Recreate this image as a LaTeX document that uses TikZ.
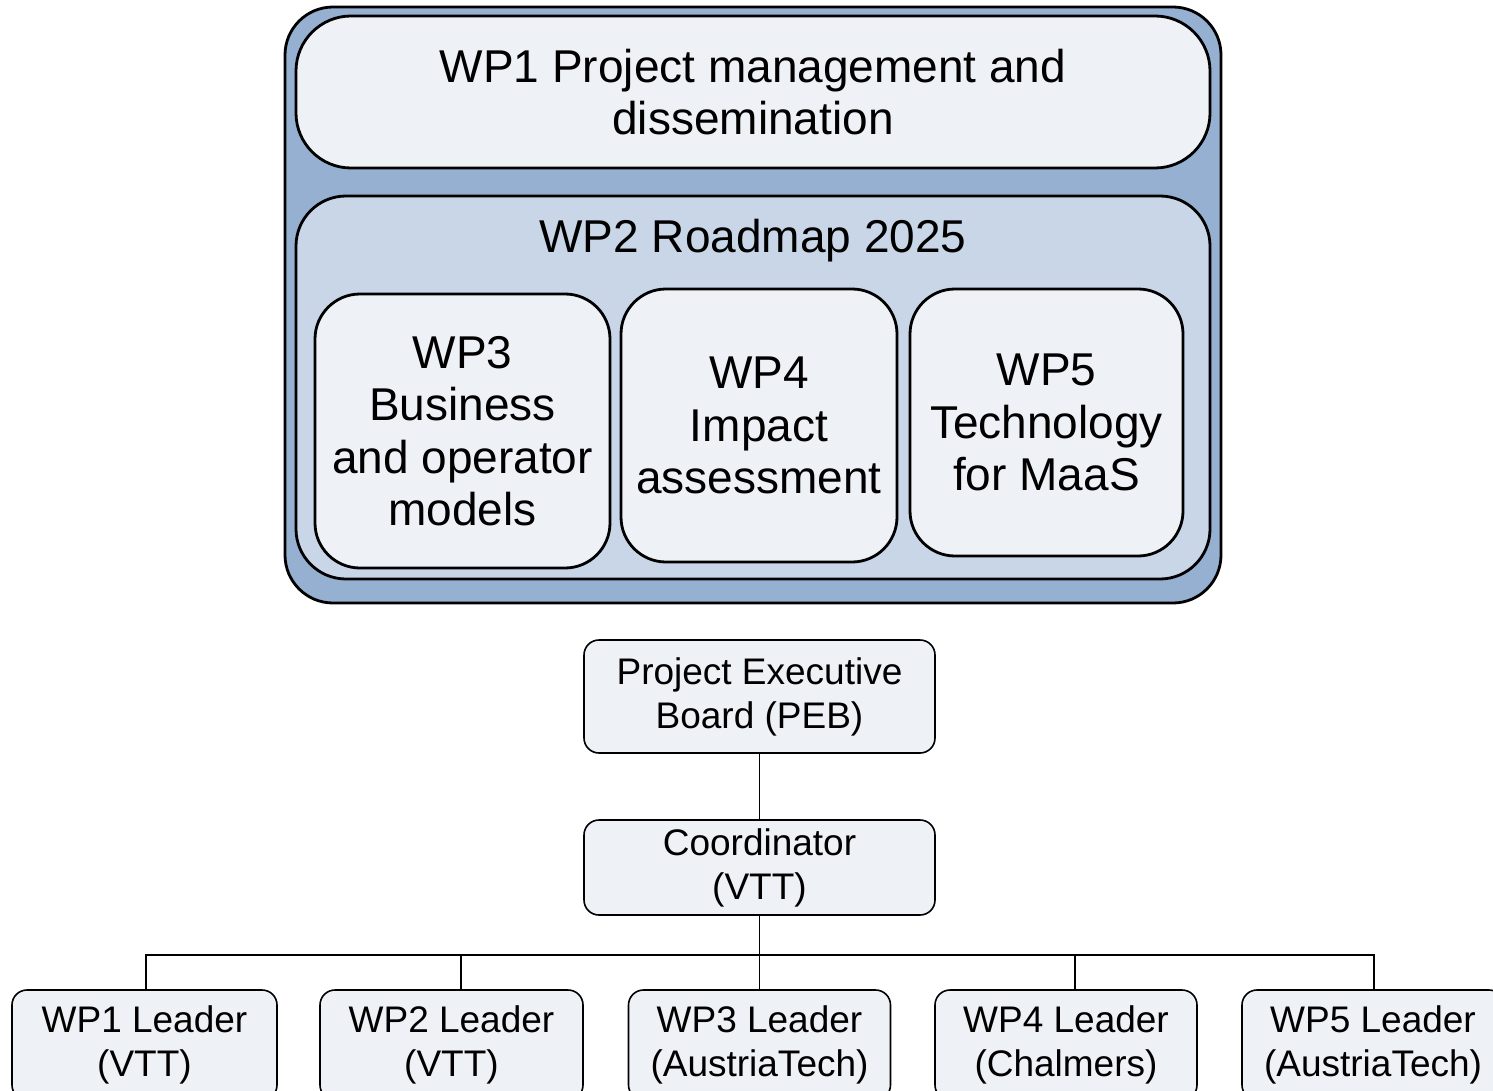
\documentclass[tikz,border=0pt]{standalone}
\usepackage{fontspec}
\setmainfont{Liberation Sans}
\definecolor{outerblue}{HTML}{95B0D0}
\definecolor{midblue}{HTML}{C8D6E8}
\definecolor{paleblue}{HTML}{EEF1F6}
\tikzset{
  bigbox/.style={draw=black, line width=2.8pt, rounded corners=#1, inner sep=0pt},
  bigtext/.style={font=\fontsize{46}{52.5}\selectfont, align=center},
  orgbox/.style={draw=black, line width=1.6pt, rounded corners=15pt, fill=paleblue,
    font=\fontsize{37}{44}\selectfont, align=center, inner sep=0pt},
  link/.style={draw=black, line width=1.8pt}
}
\begin{document}
\begin{tikzpicture}[x=1pt,y=-1pt]
\useasboundingbox (0,0) rectangle (1493,1091);
\clip (0,0) rectangle (1493,1091);
% outer frame
\node[bigbox=48pt, fill=outerblue, minimum width=936pt, minimum height=596pt] (frame) at (753,305) {};
\node[bigbox=55pt, fill=paleblue, minimum width=914pt, minimum height=152pt, bigtext] (wp1) at (753,92) {WP1 Project management and\\dissemination};
\node[bigbox=50pt, fill=midblue, minimum width=914pt, minimum height=383pt] (wp2) at (753,387.5) {};
\node[bigtext, anchor=base] (wp2t) at (753,253) {WP2 Roadmap 2025};
\node[bigbox=45pt, fill=paleblue, minimum width=295pt, minimum height=274pt, bigtext] (wp3) at (462.5,431) {WP3\\Business\\and operator\\models};
\node[bigbox=45pt, fill=paleblue, minimum width=276pt, minimum height=273pt, bigtext] (wp4) at (759,425.5) {WP4\\Impact\\assessment};
\node[bigbox=45pt, fill=paleblue, minimum width=273pt, minimum height=267pt, bigtext] (wp5) at (1046.5,422.5) {WP5\\Technology\\for MaaS};
% org chart
\node[orgbox, minimum width=351pt, minimum height=113pt] (peb) at (759.5,696.5) {Project Executive\\Board (PEB)};
\node[orgbox, minimum width=351pt, minimum height=95pt] (coord) at (759.5,867.5) {Coordinator\\(VTT)};
\node[orgbox, minimum width=265pt, minimum height=110pt] (l1) at (144.5,1045) {WP1 Leader\\(VTT)};
\node[orgbox, minimum width=263pt, minimum height=110pt] (l2) at (451.5,1045) {WP2 Leader\\(VTT)};
\node[orgbox, minimum width=262pt, minimum height=110pt] (l3) at (759.5,1045) {WP3 Leader\\(AustriaTech)};
\node[orgbox, minimum width=262pt, minimum height=110pt] (l4) at (1066,1045) {WP4 Leader\\(Chalmers)};
\node[orgbox, minimum width=262pt, minimum height=110pt] (l5) at (1373,1045) {WP5 Leader\\(AustriaTech)};
\coordinate (bus) at (759.5,955);
\coordinate (t1) at (146,990);
\coordinate (t2) at (461,990);
\coordinate (t4) at (1075,990);
\coordinate (t5) at (1374,990);
\draw[link] (peb.south) -- (coord.north);
\draw[link] (coord.south) -- (bus);
\draw[link] (t1) |- (bus) -| (t5);
\draw[link] (t2) -- (t2 |- bus);
\draw[link] (l3.north) -- (bus);
\draw[link] (t4) -- (t4 |- bus);
\end{tikzpicture}
\end{document}
